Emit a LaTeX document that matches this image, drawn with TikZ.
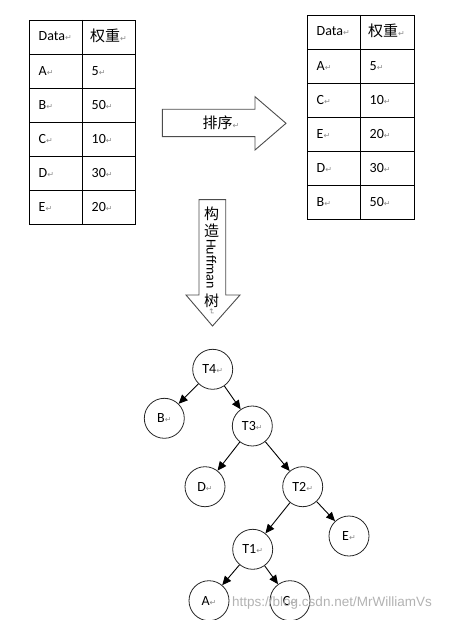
\documentclass[tikz,border=0pt]{standalone}
\usepackage{fontspec}
\setmainfont{Carlito}
\newfontfamily\cjk{Noto Sans CJK SC}
\newfontfamily\dvs{DejaVu Sans}
\newfontfamily\wmfont{Liberation Sans}
\usetikzlibrary{arrows.meta}
\newcommand\pmk{{\dvs\fontsize{8}{8}\selectfont\color{black!45}↵}}
\tikzset{
  cell/.style={anchor=west,inner sep=0pt},
  tnode/.style={circle,draw=black!85,line width=0.8pt,minimum size=40pt,inner sep=0pt},
  edge/.style={-{Triangle[length=9pt,width=8pt]},line width=0.9pt},
  blockarrow/.style={line width=0.9pt,draw=black!70,fill=white},
  grid/.style={line width=0.9pt}
}
\begin{document}
\begin{tikzpicture}[x=1pt,y=-1pt,font=\fontsize{14}{16}\selectfont]
\useasboundingbox (0,0) rectangle (470,620);
% left table
\draw[grid] (29.3,20) rectangle (135.7,224);
\draw[grid] (82.3,20) -- (82.3,224);
\foreach \yy in {54,88.7,122.7,156.7,190.7} \draw[grid] (29.3,\yy) -- (135.7,\yy);
\node[cell] (l0a) at (38.5,36) {Data\pmk};
\node[cell] (l0b) at (90,36) {\cjk\fontsize{15}{16}\selectfont 权重\pmk};
\foreach \i/\a/\b/\yy in {1/A/5/71,2/B/50/105,3/C/10/139,4/D/30/173,5/E/20/207}{
  \node[cell] (l\i a) at (38.5,\yy) {\a\pmk};
  \node[cell] (l\i b) at (91.5,\yy) {\b\pmk};
}
% right table
\draw[grid] (307.3,15) rectangle (414.3,219);
\draw[grid] (360.3,15) -- (360.3,219);
\foreach \yy in {49,83,117,151,185} \draw[grid] (307.3,\yy) -- (414.3,\yy);
\node[cell] (r0a) at (316.5,31) {Data\pmk};
\node[cell] (r0b) at (368,31) {\cjk\fontsize{15}{16}\selectfont 权重\pmk};
\foreach \i/\a/\b/\yy in {1/A/5/66,2/C/10/100,3/E/20/134,4/D/30/168,5/B/50/202}{
  \node[cell] (r\i a) at (316.5,\yy) {\a\pmk};
  \node[cell] (r\i b) at (369.5,\yy) {\b\pmk};
}
% right block arrow
\draw[blockarrow] (162.3,109.3) -- (255,109.3) -- (255,96.7) -- (286,123.3) -- (255,150) -- (255,136.7) -- (162.3,136.7) -- cycle;
\node (sort) at (221,123) {\cjk\fontsize{15}{16}\selectfont 排序\pmk};
% down block arrow
\draw[blockarrow] (199,199.7) -- (225.7,199.7) -- (225.7,295) -- (240,295) -- (212.5,326) -- (186,295) -- (199,295) -- cycle;
\node[inner sep=0pt] (c1) at (211.5,214) {\cjk\fontsize{15}{16}\selectfont 构};
\node[inner sep=0pt] (c2) at (211.5,231) {\cjk\fontsize{15}{16}\selectfont 造};
\node[inner sep=0pt,rotate=-90] (huff) at (211.5,264) {Huffman};
\node[inner sep=0pt] (c3) at (211.5,301) {\cjk\fontsize{15}{16}\selectfont 树};
\node[inner sep=0pt,rotate=-90] (c4) at (211.5,312) {\pmk};
% tree
\node[tnode] (T4) at (212.7,369.3) {T4\pmk};
\node[tnode] (B) at (164.3,418.3) {B\pmk};
\node[tnode] (T3) at (252.3,426) {T3\pmk};
\node[tnode] (D) at (205,486.7) {D\pmk};
\node[tnode] (T2) at (302.7,486.7) {T2\pmk};
\node[tnode] (E) at (349,536) {E\pmk};
\node[tnode] (T1) at (252.7,549.3) {T1\pmk};
\node[tnode] (A) at (209,600.7) {A\pmk};
\node[tnode] (C) at (290,600.7) {C\pmk};
\draw[edge] (T4) -- (B);
\draw[edge] (T4) -- (T3);
\draw[edge] (T3) -- (D);
\draw[edge] (T3) -- (T2);
\draw[edge] (T2) -- (T1);
\draw[edge] (T2) -- (E);
\draw[edge] (T1) -- (A);
\draw[edge] (T1) -- (C);
% watermark
\node[anchor=west,inner sep=0pt,text=black!30] (wm) at (232,603) {\wmfont\fontsize{13.5}{14}\selectfont https://blog.csdn.net/MrWilliamVs};
\end{tikzpicture}
\end{document}
